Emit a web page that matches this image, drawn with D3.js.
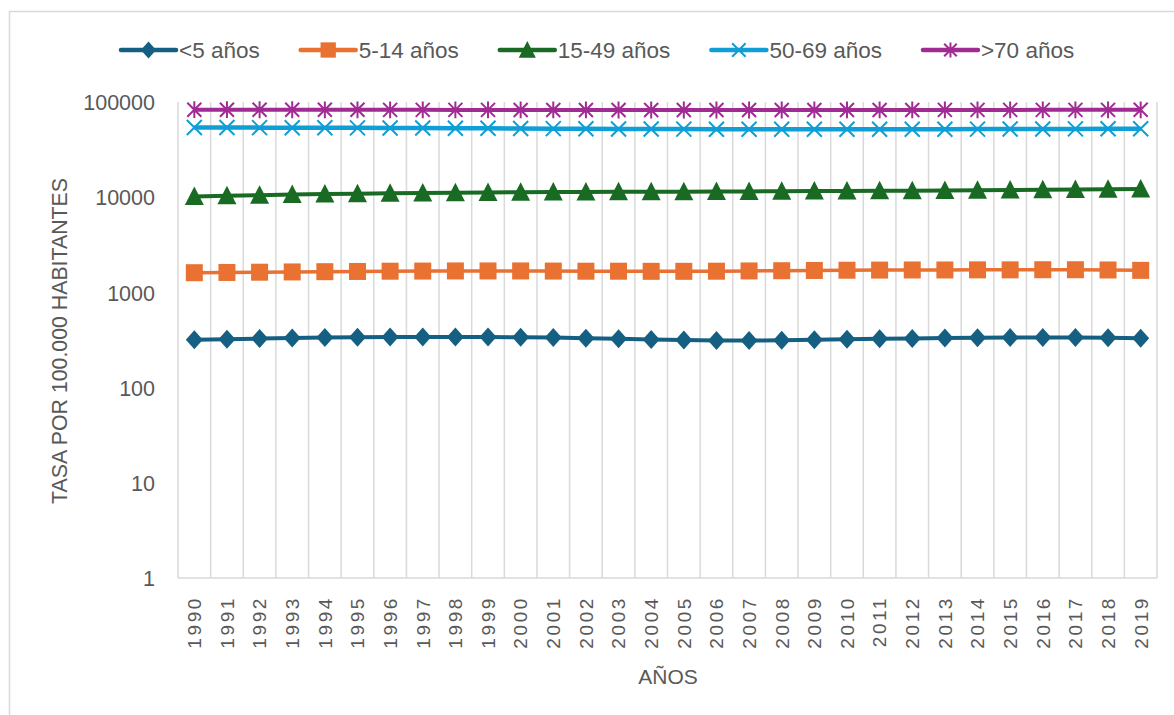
<!DOCTYPE html>
<html>
<head>
<meta charset="utf-8">
<script src="https://cdn.jsdelivr.net/npm/d3@7/dist/d3.min.js"></script>
<style>
  html, body { margin: 0; padding: 0; background: #fff; }
  svg { display: block; }
  text { font-family: "Liberation Sans", Arial, sans-serif; fill: #595959; }
</style>
</head>
<body>
<svg id="chart" width="1174" height="715"></svg>
<script>
const years = d3.range(1990, 2020).map(String);
const yTicks = [1, 10, 100, 1000, 10000, 100000];
const seriesNames = ["<5 años", "5-14 años", "15-49 años", "50-69 años", ">70 años"];
const seriesColors = ["#156082", "#E97132", "#196B24", "#0F9ED5", "#A02B93"];
const seriesMarkers = ["diamond", "square", "triangle", "x", "asterisk"];

const under5 = [318, 322, 327, 332, 335, 338, 340, 341, 341, 340, 338, 335, 330, 325, 320, 316, 313, 312, 315, 318, 322, 325, 328, 331, 333, 335, 336, 336, 334, 330];
const age5_14 = [1610, 1620, 1630, 1640, 1650, 1660, 1670, 1675, 1680, 1680, 1680, 1675, 1670, 1670, 1665, 1665, 1670, 1680, 1690, 1700, 1710, 1715, 1720, 1720, 1725, 1725, 1730, 1730, 1720, 1705];
const age15_49 = [10200, 10350, 10500, 10650, 10800, 10900, 11000, 11080, 11150, 11230, 11290, 11330, 11360, 11390, 11410, 11430, 11460, 11500, 11540, 11590, 11640, 11680, 11720, 11760, 11810, 11870, 11940, 12020, 12110, 12200];
const age50_69 = [54000, 53900, 53800, 53700, 53600, 53500, 53400, 53300, 53100, 52900, 52700, 52500, 52300, 52100, 52000, 51900, 51800, 51800, 51700, 51700, 51700, 51700, 51800, 51800, 51900, 52000, 52100, 52200, 52300, 52400];
const over70 = [83000, 83000, 82900, 82900, 82800, 82800, 82700, 82700, 82600, 82600, 82500, 82500, 82500, 82400, 82400, 82400, 82400, 82400, 82400, 82500, 82500, 82500, 82500, 82600, 82600, 82600, 82700, 82700, 82700, 82800];
const seriesValues = [under5, age5_14, age15_49, age50_69, over70];

const FONT = "'Liberation Sans', Arial, sans-serif";
const svg = d3.select("#chart");

// outer chart border
svg.append("rect").attr("x", 9.5).attr("y", 11.5).attr("width", 1180).attr("height", 720)
  .attr("fill", "none").attr("stroke", "#d9d9d9").attr("stroke-width", 1.5);

const plot = { left: 178, right: 1157, top: 102, bottom: 578 };

const x = d3.scaleBand().domain(years).range([plot.left, plot.right]).padding(0);
const y = d3.scaleLog().domain([1, 100000]).range([plot.bottom, plot.top]);

// vertical gridlines at category boundaries
const boundaries = years.map(yr => x(yr)).concat([x(years[years.length - 1]) + x.bandwidth()]);
svg.append("g").selectAll("line").data(boundaries).join("line")
  .attr("x1", d => d).attr("x2", d => d)
  .attr("y1", plot.top).attr("y2", plot.bottom)
  .attr("stroke", "#d9d9d9").attr("stroke-width", 1.5);

// bottom axis line
svg.append("line").attr("x1", plot.left).attr("x2", plot.right)
  .attr("y1", plot.bottom).attr("y2", plot.bottom)
  .attr("stroke", "#d9d9d9").attr("stroke-width", 1.5);

// y axis labels
const yAxis = d3.axisLeft(y).tickValues(yTicks).tickFormat(d => String(d)).tickSize(0).tickPadding(0);
const yg = svg.append("g").attr("transform", `translate(155,0)`).call(yAxis);
yg.select(".domain").remove();
yg.selectAll("text").attr("font-size", 21.5).attr("fill", "#595959")
  .attr("font-family", FONT).attr("dy", "0.36em");

// x axis labels
const xAxis = d3.axisBottom(x).tickSize(0).tickPadding(0);
const xg = svg.append("g").attr("transform", `translate(0,${plot.bottom})`).call(xAxis);
xg.select(".domain").remove();
xg.selectAll("text")
  .attr("font-size", 19).attr("fill", "#595959")
  .attr("font-family", FONT)
  .attr("letter-spacing", "2.6px")
  .attr("text-anchor", "end")
  .attr("transform", "rotate(-90)")
  .attr("x", -18).attr("y", 0).attr("dy", "0.36em");

// axis titles
svg.append("text").attr("x", 668).attr("y", 684).attr("text-anchor", "middle")
  .attr("font-size", 21).text("AÑOS");
svg.append("text").attr("transform", "translate(67,341) rotate(-90)").attr("text-anchor", "middle")
  .attr("font-size", 21.3).text("TASA POR 100.000 HABITANTES");

// marker drawer
function drawMarker(g, type, color, s) {
  s = s || 1;
  if (type === "diamond") {
    g.append("path").attr("d", `M0,${-9.5*s} L${8.5*s},0 L0,${9.5*s} L${-8.5*s},0Z`).attr("fill", color);
  } else if (type === "square") {
    g.append("rect").attr("x", -8.5*s).attr("y", -8.5*s).attr("width", 17*s).attr("height", 17*s).attr("fill", color);
  } else if (type === "triangle") {
    g.append("path").attr("d", `M0,${-10*s} L${9.5*s},${8.5*s} L${-9.5*s},${8.5*s}Z`).attr("fill", color);
  } else if (type === "x") {
    const r = 7.5*s;
    g.append("path").attr("d", `M${-r},${-r}L${r},${r}M${-r},${r}L${r},${-r}`)
      .attr("stroke", color).attr("stroke-width", 2).attr("fill", "none");
  } else if (type === "asterisk") {
    const r = 7*s;
    g.append("path").attr("d", `M${-r},${-r}L${r},${r}M${-r},${r}L${r},${-r}M0,${-r*1.2}L0,${r*1.2}`)
      .attr("stroke", color).attr("stroke-width", 2).attr("fill", "none");
  }
}

const lineWidths = [4, 3.5, 4, 4.5, 4];
const line = d3.line().x((d, i) => x(years[i]) + x.bandwidth() / 2).y(d => y(d));

seriesValues.forEach((vals, si) => {
  const g = svg.append("g");
  g.append("path").datum(vals).attr("d", line).attr("fill", "none")
    .attr("stroke", seriesColors[si]).attr("stroke-width", lineWidths[si]).attr("stroke-linejoin", "round");
  vals.forEach((v, i) => {
    const mg = g.append("g").attr("transform", `translate(${x(years[i]) + x.bandwidth() / 2},${y(v)})`);
    drawMarker(mg, seriesMarkers[si], seriesColors[si], 1);
  });
});

// legend
const legend = svg.append("g");
let lx = 121;
const ly = 50;
seriesNames.forEach((name, si) => {
  const g = legend.append("g");
  g.append("line").attr("x1", lx).attr("x2", lx + 55).attr("y1", ly).attr("y2", ly)
    .attr("stroke", seriesColors[si]).attr("stroke-width", 4.5).attr("stroke-linecap", "round");
  const mg = g.append("g").attr("transform", `translate(${lx + 27.5},${ly})`);
  drawMarker(mg, seriesMarkers[si], seriesColors[si], 0.9);
  const t = g.append("text").attr("x", lx + 58).attr("y", ly).attr("dy", "0.36em")
    .attr("font-size", 22.5).text(name);
  const w = t.node().getComputedTextLength();
  lx = lx + 58 + w + 41;
});
</script>
</body>
</html>
